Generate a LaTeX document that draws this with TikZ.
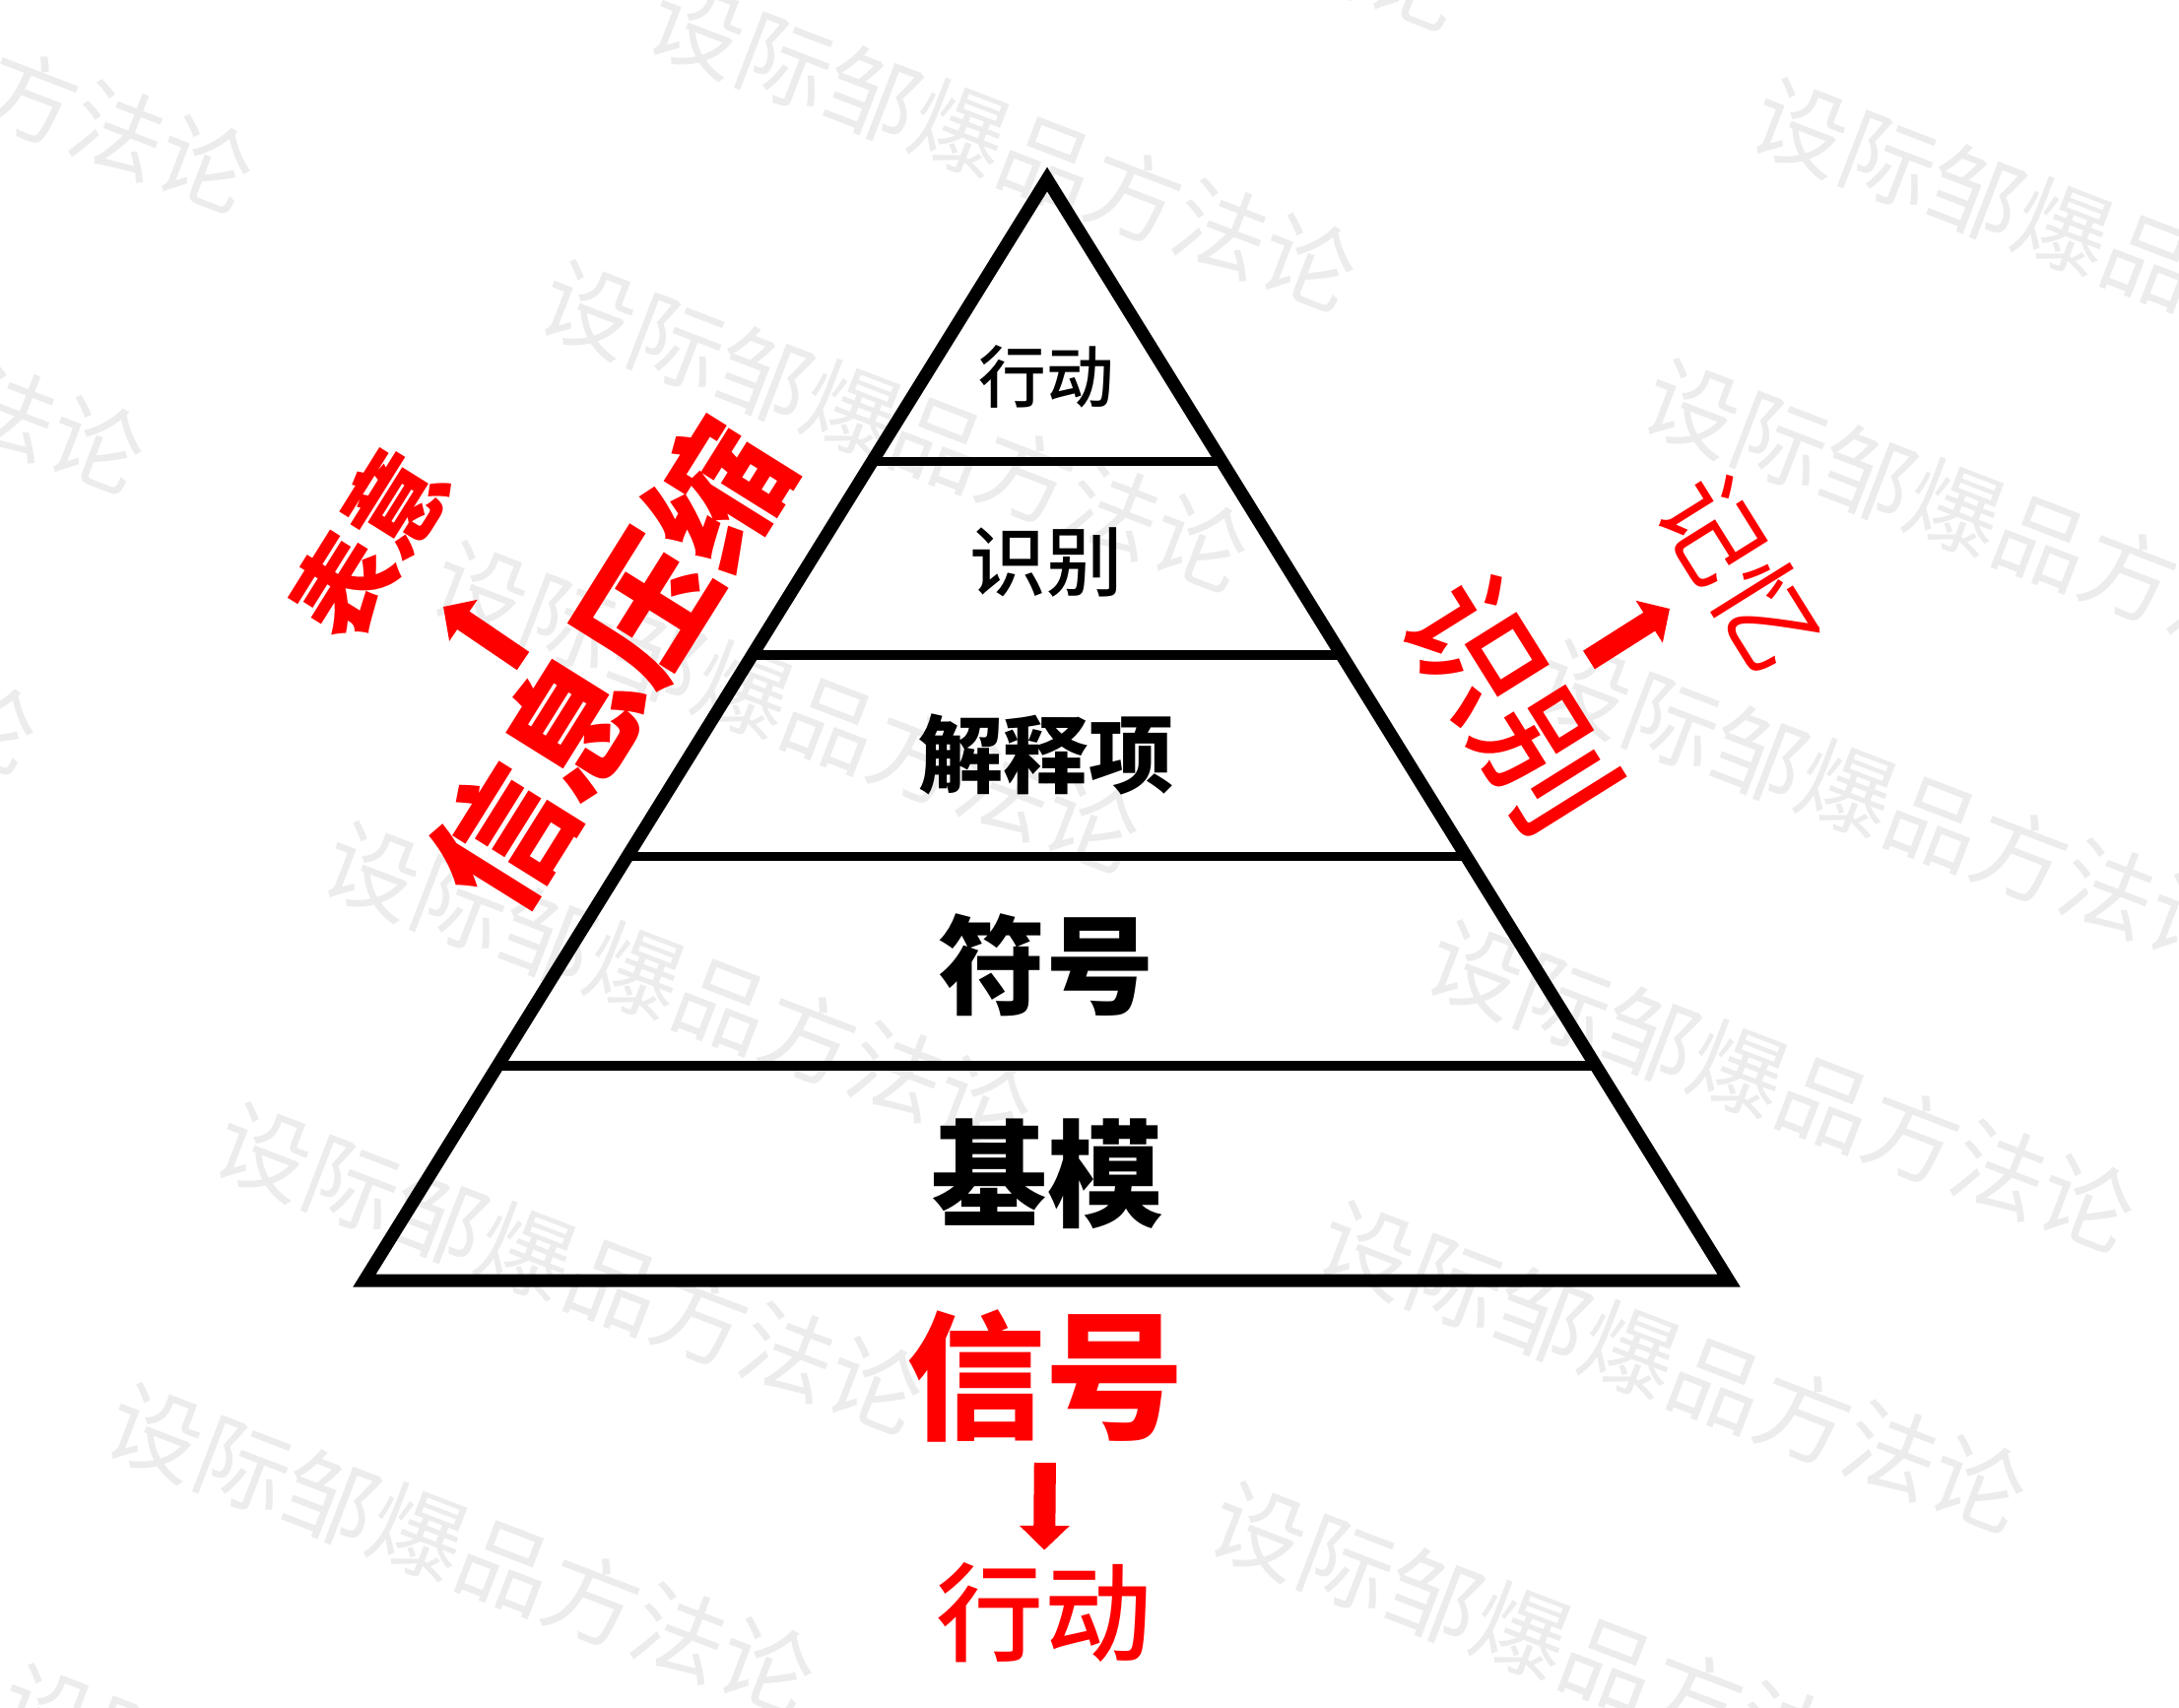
\documentclass[tikz,border=0pt]{standalone}
\usepackage{fontspec}
\usepackage{tikz}
\usetikzlibrary{arrows.meta,calc}
\newfontfamily\cjk{Noto Sans CJK SC}
\newfontfamily\cjkmd{Noto Sans CJK SC Medium}
\newcommand{\fsz}[1]{\fontsize{#1}{#1}\selectfont}
\definecolor{sigred}{RGB}{255,0,0}
\definecolor{wmgray}{RGB}{236,236,236}

\begin{document}
\begin{tikzpicture}[x=0.01cm,y=-0.01cm]
\tikzset{tiertext/.style = {font=\cjkmd\fsz{#1}, inner sep=0pt}}
\tikzset{tierbold/.style = {font=\cjk\bfseries\fsz{#1}, inner sep=0pt}}
\tikzset{redtext/.style = {font=\cjk\fsz{#1}, text=sigred, inner sep=0pt}}
\tikzset{redmid/.style = {font=\cjkmd\fsz{#1}, text=sigred, inner sep=0pt}}
\tikzset{redbold/.style = {font=\cjk\bfseries\fsz{#1}, text=sigred, inner sep=0pt}}
\tikzset{wmark/.style = {font=\cjk\fsz{27}, text=wmgray, rotate=-21}}
\tikzset{outline/.style = {line width=3.7pt}}
\tikzset{divider/.style = {line width=2.6pt}}
\tikzset{push/.style = {-{Triangle[width=14pt,length=7pt]}, line width=6.3pt, draw=sigred}}

\fill[white] (0,0) rectangle (2212,1733);
\useasboundingbox (0,0) rectangle (2212,1733);

% watermark
\foreach \i in {-1,...,6}{
  \foreach \j in {-1,0,1}{
    \pgfmathsetmacro{\wx}{1019-110*\i+1120*\j}
    \pgfmathsetmacro{\wy}{148+285*\i+100*\j}
    \node[wmark] at (\wx,\wy) {设际邹爆品方法论};
  }
}

% pyramid
\coordinate (apex) at (1063,182);
\coordinate (bl) at (370,1300);
\coordinate (br) at (1755,1300);
\draw[outline] (apex) -- (bl) -- (br) -- cycle;
\foreach \t in {0.256,0.432,0.615,0.805}
  \draw[divider] ($(apex)!\t!(bl)$) -- ($(apex)!\t!(br)$);

% tiers
\node[tiertext=19.5] (act) at (1062,382) {行动};
\node[tiertext=22] (recog) at (1062,571) {识别};
\node[tierbold=24.5] (interp) at (1062,766) {解释项};
\node[tierbold=31] (sym) at (1062,980) {符号};
\node[tierbold=33.5] (schema) at (1063,1192) {基模};

% red notes
\node[redbold=40] (signal) at (1061,1397) {信号};
\node[redmid=31] (action) at (1060,1637) {行动};
\node[redbold=39, rotate=58] (press) at (619,676) {信息压缩};
\node[redbold=28.5, rotate=58] (meaning) at (375,552) {表意};
\node[redmid=38.5, rotate=-58] (ident) at (1534,716) {识别};
\node[redtext=29.5, rotate=-58] (memory) at (1767,581) {记忆};

% arrows
\coordinate (lt) at (531,671);
\coordinate (lh) at (450,616);
\coordinate (rt) at (1613,670);
\coordinate (rh) at (1695,618);
\draw[push] (lt) -- (lh);
\draw[push] (rt) -- (rh);
\draw[push, shorten <=5.7pt, shorten >=3.4pt] (signal.south) -- (action.north);

\end{tikzpicture}
\end{document}
